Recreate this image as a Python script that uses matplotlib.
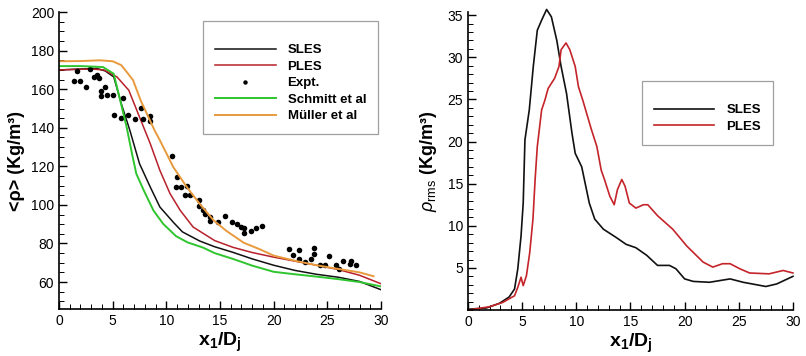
import numpy as np
import matplotlib
matplotlib.use('Agg')
import matplotlib.pyplot as plt
from matplotlib.ticker import MultipleLocator

plt.rcParams['font.family'] = ['Liberation Sans', 'DejaVu Sans']
plt.rcParams['mathtext.fontset'] = 'custom'
plt.rcParams['mathtext.rm'] = 'Liberation Sans'
plt.rcParams['mathtext.it'] = 'Liberation Sans:italic'
plt.rcParams['mathtext.bf'] = 'Liberation Sans:bold'

# --- mean density (left panel) ---
sles_x = [0, 2, 3.5, 4.3, 5.1, 5.8, 6.6, 7.5, 8.5, 9.4, 10.65, 11.5, 13.1, 14.5, 16.2, 18, 20, 22, 24, 26, 28, 30]
sles_y = [170, 170.5, 170.8, 169.5, 166.4, 152.6, 138.7, 121.4, 109.3, 98.9, 91, 86, 81.3, 78.3, 75.4, 72, 68.7, 66, 64, 62.5, 60.3, 56]

ples_x = [0, 3, 4.2, 5.4, 6.5, 7.5, 8.5, 9.4, 10.35, 11.3, 12.5, 14.5, 16.2, 18, 20, 22, 24, 26, 28, 30]
ples_y = [170, 170.5, 170, 166.4, 159.5, 145.6, 131.8, 117.9, 105.8, 97.1, 88.5, 81.5, 78, 75.3, 72.9, 70.8, 68.7, 66.5, 63.5, 59.1]

schmitt_x = [0, 2, 4.1, 5.1, 5.7, 6.3, 6.8, 7.2, 7.9, 8.8, 9.7, 10.9, 12, 13.4, 14.5, 16.2, 18, 20, 22, 24, 26, 28, 30]
schmitt_y = [172, 172, 171.5, 168, 154.3, 140.4, 126.6, 116.2, 107.5, 97.1, 90.2, 83.8, 80.5, 77.9, 75, 72, 68.5, 65.3, 64, 62.8, 61.5, 60, 57.7]

muller_x = [0, 2, 3.8, 5.0, 5.8, 6.4, 6.9, 7.6, 8.9, 9.4, 10.65, 11.9, 13.1, 14.4, 15.6, 17.2, 18.7, 20, 22, 24, 26, 28, 29.3]
muller_y = [174.5, 174.6, 175, 174.5, 172.5, 168.3, 164.7, 154.3, 138.7, 133.5, 119.6, 109.3, 100.6, 92, 86.5, 80.4, 77, 73.7, 71, 68.7, 66.8, 65, 63]

expt_x = [1.4, 1.65, 1.96, 2.5, 2.9, 3.3, 3.5, 3.75, 3.9, 3.9, 4.25, 4.5, 5.0, 5.15, 5.8, 6.0, 6.4,
          7.1, 7.6, 7.8, 8.5, 8.5, 10.56, 11.0, 10.9, 11.4, 11.9, 11.7, 12.2, 13.0, 13.0, 13.45, 13.6,
          14.1, 14.1, 14.85, 15.5, 16.1, 16.6, 17.0, 17.2, 17.2, 17.9, 18.4, 18.9,
          21.4, 21.8, 22.4, 22.4, 22.9, 23.5, 23.8, 23.8, 24.3, 24.8, 25.2, 25.8, 26.1, 26.5, 27.1, 27.2, 27.7]
expt_y = [164.3, 169.5, 164.3, 161.2, 170.4, 166.5, 167.3, 166.0, 159.1, 156.3, 161.2, 156.9, 156.9, 146.5, 145.0, 155.2, 146.5,
          144.6, 150.5, 144.6, 146.0, 143.5, 125.2, 114.4, 109.3, 109.3, 109.6, 104.9, 104.9, 102.7, 99.2, 97.5, 95.4,
          93.7, 91.4, 91.0, 94.0, 91.0, 90.2, 88.5, 88.0, 85.4, 86.3, 88.0, 89.1,
          77.0, 74.2, 76.6, 72.0, 70.4, 72.0, 74.6, 77.9, 68.7, 68.7, 73.7, 68.7, 67.0, 70.7, 69.5, 70.7, 68.7]

# --- rms density (right panel) ---
rms_sles_x = [0, 1.7, 2.9, 3.8, 4.3, 4.6, 4.9, 5.1, 5.26, 5.66, 6.03, 6.4, 6.8, 7.26, 7.7, 8.2, 8.6, 9.1, 9.6, 9.9,
              10.5, 11.2, 11.7, 12.5, 13.7, 14.6, 15.5, 16.5, 17.5, 18.6, 19.2, 20, 20.8, 22.3, 24.2, 25.4, 27.5, 28.5, 30]
rms_sles_y = [0.1, 0.25, 0.8, 1.55, 2.5, 4.9, 8.8, 12.7, 20.2, 23.75, 28.9, 33.2, 34.4, 35.67, 34.8, 32, 28.9, 25.7, 21, 18.6,
              17, 12.7, 10.8, 9.6, 8.6, 7.8, 7.4, 6.5, 5.3, 5.3, 4.9, 3.7, 3.4, 3.3, 3.7, 3.3, 2.8, 3.1, 4.0]

rms_ples_x = [0, 2, 3.2, 4.3, 4.6, 4.9, 5.1, 5.4, 5.7, 6.0, 6.2, 6.4, 6.8, 7.1, 7.4, 8.0, 8.4, 8.6, 9.05, 9.4, 9.9,
              10.2, 10.6, 11.4, 11.9, 12.3, 12.6, 13.1, 13.5, 13.8, 14.2, 14.5, 14.9, 15.5, 16.2, 16.6, 17.5, 18.9,
              20.2, 21.7, 22.6, 23.5, 24.2, 25.1, 26, 27.8, 29.1, 30]
rms_ples_y = [0, 0.4, 0.9, 1.7, 2.7, 3.9, 2.9, 4.1, 6.8, 10.8, 15.5, 19.4, 23.75, 24.9, 26.3, 27.5, 28.9, 30.9, 31.7, 30.9, 28.9,
              26.5, 24.9, 21.4, 19.4, 16.6, 15.5, 13.5, 12.5, 14.3, 15.5, 14.7, 12.7, 12.1, 12.5, 12.5, 11.2, 9.6,
              7.6, 5.7, 5.1, 5.5, 5.5, 4.9, 4.4, 4.3, 4.7, 4.4]

col_black = '#111111'
col_red = '#b8202a'
col_green = '#2ec52e'
col_orange = '#e89a3c'


def style_axes(ax):
    ax.spines['top'].set_visible(False)
    ax.spines['right'].set_visible(False)
    for s in ('left', 'bottom'):
        ax.spines[s].set_linewidth(1.2)
    ax.tick_params(which='both', direction='in', top=False, right=False, labelsize=10)
    ax.tick_params(which='major', length=6, width=1.0)
    ax.tick_params(which='minor', length=3.5, width=0.7)
    ax.xaxis.set_major_locator(MultipleLocator(5))
    ax.xaxis.set_minor_locator(MultipleLocator(1))
    ax.set_xlim(0, 30)
    ax.set_xlabel(r'$\mathbf{x_1/D_j}$', fontsize=14, labelpad=2)


def tecplot_legend(ax, anchor):
    leg = ax.legend(loc='upper right', bbox_to_anchor=anchor, borderaxespad=0,
                    prop={'weight': 'bold', 'size': 9.5}, handlelength=4.6, handletextpad=0.9,
                    labelspacing=0.32, borderpad=0.9, fancybox=False, frameon=True,
                    markerscale=0.8, numpoints=1, title=' ', title_fontsize=5)
    leg.get_frame().set_edgecolor('#888888')
    leg.get_frame().set_linewidth(0.9)
    return leg


fig = plt.figure(figsize=(8.06, 3.56), dpi=100)

# left panel
ax1 = fig.add_axes([0.0732, 0.132, 0.3995, 0.834])
style_axes(ax1)
ax1.plot(sles_x, sles_y, color=col_black, lw=1.1, label='SLES')
ax1.plot(ples_x, ples_y, color=col_red, lw=1.1, label='PLES')
ax1.plot(expt_x, expt_y, 'o', color='black', ms=4, mew=0, label='Expt.')
ax1.plot(schmitt_x, schmitt_y, color=col_green, lw=1.4, label='Schmitt et al')
ax1.plot(muller_x, muller_y, color=col_orange, lw=1.4, label='Müller et al')
ax1.set_ylim(46, 200)
ax1.yaxis.set_minor_locator(MultipleLocator(5))
ax1.set_yticks([60, 80, 100, 120, 140, 160, 180, 200])
ax1.set_ylabel('<ρ> (Kg/m³)', fontsize=13, fontweight='bold', labelpad=4)
tecplot_legend(ax1, (0.991, 0.970))

# right panel
ax2 = fig.add_axes([0.5806, 0.129, 0.4032, 0.838])
style_axes(ax2)
ax2.plot(rms_sles_x, rms_sles_y, color=col_black, lw=1.2, label='SLES', clip_on=False)
ax2.plot(rms_ples_x, rms_ples_y, color='#c4242a', lw=1.2, label='PLES', clip_on=False)
ax2.set_ylim(0, 35.4)
ax2.set_yticks([5, 10, 15, 20, 25, 30, 35])
ax2.yaxis.set_minor_locator(MultipleLocator(1))
ax2.set_ylabel(r'$\rho_{\rm rms}$' + ' (Kg/m³)', fontsize=13, fontweight='bold', labelpad=6)
tecplot_legend(ax2, (0.938, 0.768))

fig.savefig('out.png', dpi=100)
